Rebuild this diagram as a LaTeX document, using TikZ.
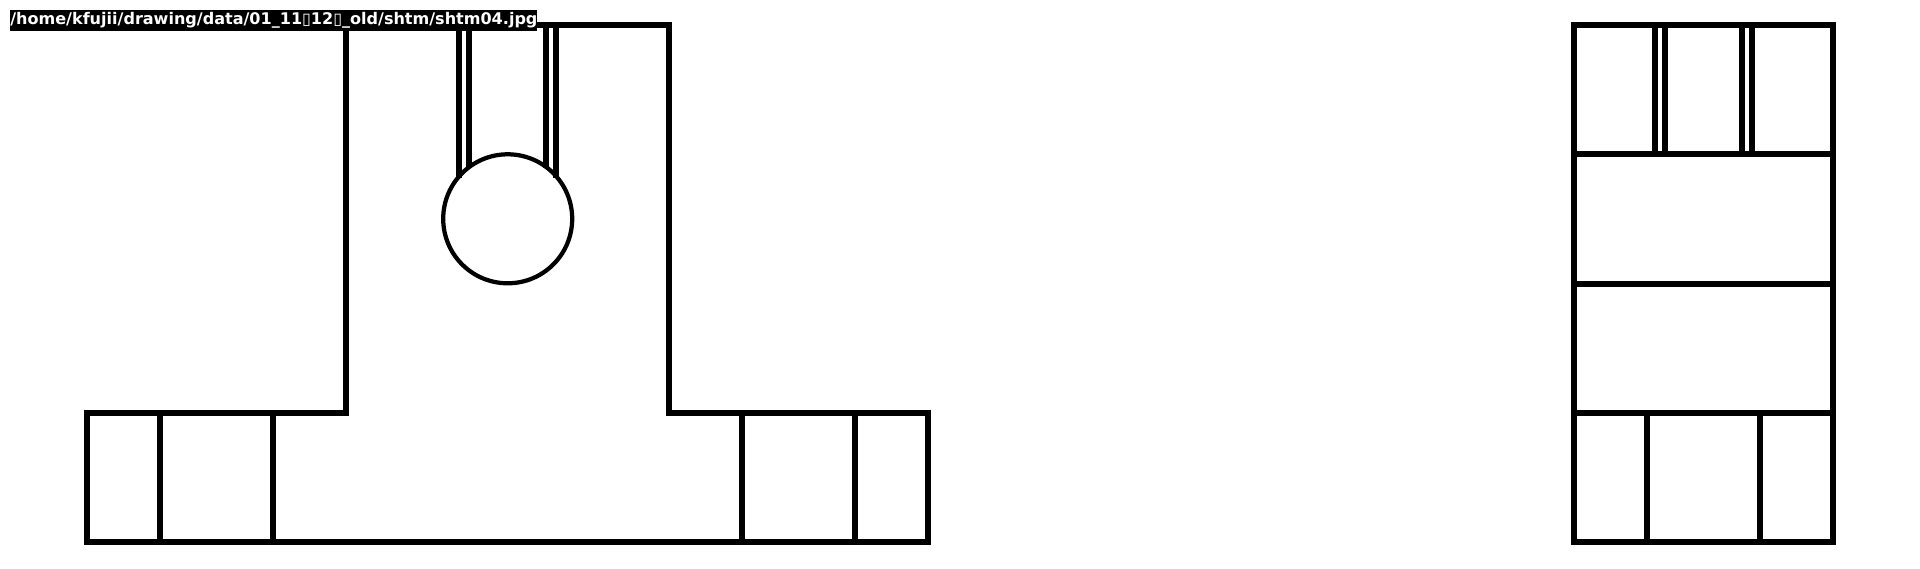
\documentclass[tikz,border=0pt]{standalone}
\usepackage{fontspec}
\setsansfont{DejaVu Sans}
\usetikzlibrary{positioning}

\begin{document}
\begin{tikzpicture}[x=0.02cm,y=-0.02cm,
        part/.style={line width=0.135cm, line cap=rect},
        bore/.style={line width=0.085cm},
        pathlabel/.style={fill=black, text=white, inner sep=0pt, anchor=north west, minimum height=0.41cm, font=\sffamily\bfseries\fontsize{9.13pt}{9.13pt}\selectfont}
    ]
    \useasboundingbox (0,0) rectangle (1920,568);
    % Front view: outline
    \draw[part] (87,413) -- (346,413) -- (346,25) -- (669,25) -- (669,413) -- (928,413) -- (928,542) -- (87,542) -- cycle;
    % Front view: base verticals
    \foreach \x in {160,273,742,855} {
        \draw[part] (\x,413) -- (\x,542);
    }
    % Front view: bore and slit
    \draw[bore] (507.7,218.8) circle (64.5);
    \foreach \x/\y in {459/178,469/168,546/168,556/178} {
        \draw[part, line cap=butt] (\x,25) -- (\x,\y);
    }
    % Side view: block with rows
    \draw[part] (1574,25) rectangle (1833,542);
    \foreach \y in {154,284,413} {
        \draw[part] (1574,\y) -- (1833,\y);
    }
    \foreach \x in {1655,1665,1742,1752} {
        \draw[part] (\x,25) -- (\x,154);
    }
    \foreach \x in {1647,1760} {
        \draw[part] (\x,413) -- (\x,542);
    }
    % File name tag on top of the drawing
    \node[pathlabel] (filename) at (10,10) {/home/kfujii/drawing/data/01\_11\symbol{"25AF}12\symbol{"25AF}\_old/shtm/shtm04.jpg};
\end{tikzpicture}
\end{document}
